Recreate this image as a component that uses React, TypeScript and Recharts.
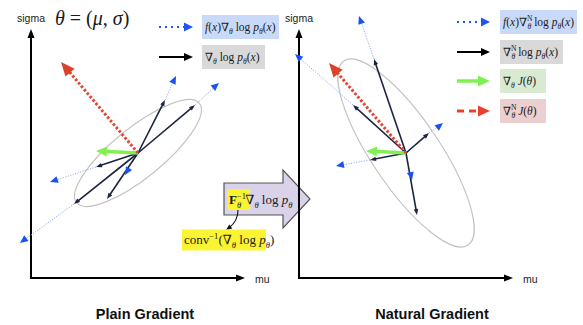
import React from 'react';
import { ComposedChart, XAxis, YAxis, ReferenceLine, ReferenceArea, ReferenceDot } from 'recharts';

const W = 583;
const H = 325;
const SANS = "'Liberation Sans', Arial, Helvetica, sans-serif";
const SERIF = "'Liberation Serif', 'DejaVu Serif', 'Times New Roman', serif";

// ---------------- data ----------------
const panelNames = ['Plain Gradient', 'Natural Gradient'];
const panelOriginX = [31, 299]; // where each panel's mu / sigma axes meet
const panelOriginY = 47;
const muAxisLength = 214;
const sigmaAxisLength = 249;
const titleX = [145, 432];
const thetaPoint = [107, 125]; // current (mu, sigma), panel units

// samples: gradient of log-density (black) and fitness-weighted version (blue)
const plainGradLogP = [[27, 53], [57, 48], [-42, -14], [-64, -51], [-31, -46]];
const plainWeighted = [[38, 77], [81, 70], [-88, -29], [-118, -90], [-13, -22]];
const naturalGradLogP = [[-32, 94], [-53, 48], [23, 20], [-36, -7], [11, -62]];
const naturalWeighted = [[-47, 137], [-111, 99], [37, 30], [-70, -13], [6, -27]];
const gradJ = [[-42, 2], [-40, 2]];
const naturalGradJ = [[-77, 91], [-77, 90]];
// distribution contour for each panel
const ellipseA = [79, 111];
const ellipseB = [25, 34];
const ellipseAngle = [39, -56];

// legends
const legendKinds = [['weighted', 'sample'], ['weighted', 'sample', 'grad', 'natgrad']];
const legendArrowX = [[159, 193], [457, 490]];
const legendBoxX = [202, 500];
const legendRowTop = [[27, 57], [22, 52, 81, 111]]; // measured from the top
const legendBoxW = [[77, 63], [77, 63, 46, 46]];
const legendBoxH = 24;
const legendFill: Record<string, string> = {
  weighted: '#c9daf8',
  sample: '#d9d9d9',
  grad: '#d9ead3',
  natgrad: '#ecd0d0',
};

// ---------------- helpers ----------------
const Y = (fromTop: number) => H - fromTop;

type Seg = { t: string; f?: string; dx?: number };
const S = (t: string, f = '', dx?: number): Seg => ({ t, f, dx });

const fx = [S('f', 'i'), S('('), S('x', 'i'), S(')')];
const logp = [S(' log '), S('p', 'i'), S('θ', '_i'), S('('), S('x', 'i'), S(')')];
const nablaPlain = [S('∇'), S('θ', '_i')];
const nablaNat = [S('∇'), S('N', '^'), S('θ', '_i', -5)];
const Jtheta = [S(' '), S('J', 'i'), S('('), S('θ', 'i'), S(')')];

const formula = (kind: string, natural: boolean): Seg[] => {
  const nab = natural ? nablaNat : nablaPlain;
  if (kind === 'weighted') return [...fx, ...nab, ...logp];
  if (kind === 'sample') return [...nab, ...logp];
  if (kind === 'grad') return [...nablaPlain, ...Jtheta];
  return [...nablaNat, ...Jtheta];
};

const fisherText = [S('F', 'b'), S('−1', '^'), S('θ', '_i', -9), S('∇', '', 4), S('θ', '_i'), S(' log '), S('p', 'i'), S('θ', '_i')];
const convText = [S('conv'), S('−1', '^'), S('(∇'), S('θ', '_i'), S(' log '), S('p', 'i'), S('θ', '_i'), S(')')];
const thetaText = [S('θ', 'i'), S(' = ('), S('μ', 'i'), S(', '), S('σ', 'i'), S(')')];

function MathText({ x, y, segs, size, fill = '#1a1a1a' }: { x: number; y: number; segs: Seg[]; size: number; fill?: string }) {
  let level = 0;
  const kids = segs.map((s, k) => {
    const f = s.f || '';
    const small = f.includes('_') || f.includes('^');
    const target = f.includes('_') ? size * 0.3 : f.includes('^') ? -size * 0.4 : 0;
    const dy = target - level;
    level = target;
    return (
      <tspan
        key={k}
        dy={dy}
        dx={s.dx}
        fontStyle={f.includes('i') ? 'italic' : 'normal'}
        fontWeight={f.includes('b') ? 'bold' : 'normal'}
        fontSize={small ? size * 0.66 : size}
      >
        {s.t}
      </tspan>
    );
  });
  return (
    <text x={x} y={y} fontSize={size} fontFamily={SERIF} fill={fill} style={{ whiteSpace: 'pre' }}>
      {kids}
    </text>
  );
}

interface ArrowStyle {
  stroke: string;
  width: number;
  dash?: string;
  headLen: number;
  headW: number;
  headFill?: string;
  line?: boolean;
  head?: boolean;
  cap?: 'butt' | 'round' | 'square';
}

const arrow = (s: ArrowStyle) => (p: any) => {
  const { x1, y1, x2, y2 } = p;
  const dx = x2 - x1;
  const dy = y2 - y1;
  const L = Math.hypot(dx, dy) || 1;
  const ux = dx / L;
  const uy = dy / L;
  const bx = x2 - ux * s.headLen;
  const by = y2 - uy * s.headLen;
  const hw = s.headW / 2;
  const ex = x2 - ux * s.headLen * 0.6;
  const ey = y2 - uy * s.headLen * 0.6;
  return (
    <g>
      {s.line !== false && (
        <line x1={x1} y1={y1} x2={ex} y2={ey} stroke={s.stroke} strokeWidth={s.width} strokeDasharray={s.dash} strokeLinecap={s.cap ?? 'butt'} />
      )}
      {s.head !== false && (
        <polygon points={`${x2},${y2} ${bx - uy * hw},${by + ux * hw} ${bx + uy * hw},${by - ux * hw}`} fill={s.headFill ?? s.stroke} />
      )}
    </g>
  );
};

const styles: Record<string, ArrowStyle> = {
  axis: { stroke: '#000', width: 2, headLen: 9, headW: 7, cap: 'square' },
  blueLine: { stroke: '#94aef7', width: 1, dash: '1.2 1.4', headLen: 7, headW: 7, head: false },
  blueHead: { stroke: '#1a52f0', width: 1, headLen: 8, headW: 7, line: false },
  black: { stroke: '#1b2441', width: 1.6, headLen: 6, headW: 4.5 },
  green: { stroke: '#83f052', width: 3.5, headLen: 11, headW: 10 },
  red: { stroke: '#e4452f', width: 3, dash: '2.5 2', headLen: 14, headW: 12, headFill: '#d9432c' },
  weighted: { stroke: '#1f55f2', width: 2, dash: '2 4', headLen: 9, headW: 9 },
  sample: { stroke: '#000', width: 2, headLen: 9, headW: 8 },
  grad: { stroke: '#7ff04f', width: 3.5, headLen: 12, headW: 11 },
  natgrad: { stroke: '#ea3f2a', width: 3, dash: '7 5', headLen: 12, headW: 11 },
};

const fatArrow = (p: any) => {
  const { x1, y1, x2 } = p;
  const bodyHalf = 16;
  const headHalf = 29;
  const headLen = 27;
  const hx = x2 - headLen;
  const pts = [
    [x1, y1 - bodyHalf], [hx, y1 - bodyHalf], [hx, y1 - headHalf], [x2, y1],
    [hx, y1 + headHalf], [hx, y1 + bodyHalf], [x1, y1 + bodyHalf],
  ].map((q) => q.join(',')).join(' ');
  return <polygon points={pts} fill="#d9d2e9" stroke="#555" strokeWidth={1.2} />;
};

const curvedArrow = (p: any) => {
  const { x1, y1, x2, y2 } = p;
  const cx = x1;
  const cy = y1 + 11;
  const dx = x2 - cx;
  const dy = y2 - cy;
  const L = Math.hypot(dx, dy) || 1;
  const ux = dx / L;
  const uy = dy / L;
  const bx = x2 - ux * 6;
  const by = y2 - uy * 6;
  return (
    <g>
      <path d={`M${x1},${y1} Q${cx},${cy} ${bx + ux * 2},${by + uy * 2}`} fill="none" stroke="#111" strokeWidth={1.1} />
      <polygon points={`${x2},${y2} ${bx - uy * 2.5},${by + ux * 2.5} ${bx + uy * 2.5},${by - ux * 2.5}`} fill="#111" />
    </g>
  );
};

const P = (i: number, mu: number, sigma: number) => ({ x: panelOriginX[i] + mu, y: panelOriginY + sigma });
const add = (a: { x: number; y: number }, v: number[]) => ({ x: a.x + v[0], y: a.y + v[1] });

const textAt = (key: string, x: number, y: number, render: (cx: number, cy: number) => React.ReactElement) => (
  <ReferenceDot key={key} x={x} y={y} r={0} ifOverflow="visible" fill="none" stroke="none" shape={(p: any) => render(p.cx, p.cy)} />
);

export default function App() {
  const areas: React.ReactElement[] = [];
  const lines: React.ReactElement[] = [];
  const texts: React.ReactElement[] = [];

  const seg = (key: string, a: { x: number; y: number }, b: { x: number; y: number }, shape: any) => (
    <ReferenceLine key={key} segment={[a, b]} ifOverflow="visible" stroke="none" shape={shape} />
  );

  // big transition arrow (drawn first so the right axis crosses it)
  lines.push(seg('fat', { x: 224, y: Y(199) }, { x: 310, y: Y(199) }, fatArrow));
  lines.push(seg('curve', { x: 238, y: Y(210) }, { x: 226, y: Y(230) }, curvedArrow));

  [0, 1].forEach((i) => {
    const c = P(i, thetaPoint[0], thetaPoint[1]);
    const grads = i === 0 ? plainGradLogP : naturalGradLogP;
    const weighted = i === 0 ? plainWeighted : naturalWeighted;

    // contour of the distribution
    areas.push(
      <ReferenceArea
        key={`ell${i}`}
        x1={c.x - ellipseA[i]}
        x2={c.x + ellipseA[i]}
        y1={c.y - ellipseB[i]}
        y2={c.y + ellipseB[i]}
        ifOverflow="visible"
        shape={(p: any) => {
          const w = Math.abs(p.width);
          const h = Math.abs(p.height);
          const ex = Math.min(p.x, p.x + p.width) + w / 2;
          const ey = Math.min(p.y, p.y + p.height) + h / 2;
          return (
            <ellipse cx={ex} cy={ey} rx={w / 2} ry={h / 2} transform={`rotate(${-ellipseAngle[i]} ${ex} ${ey})`} fill="none" stroke="#c4c4c4" strokeWidth={1.2} />
          );
        }}
      />
    );

    // axes
    lines.push(seg(`ay${i}`, P(i, 0, 0), P(i, 0, sigmaAxisLength), arrow(styles.axis)));
    lines.push(seg(`ax${i}`, P(i, 0, 0), P(i, muAxisLength, 0), arrow(styles.axis)));

    // weighted samples (dotted blue extension)
    weighted.forEach((v, k) => {
      const g = grads[k];
      const longer = Math.hypot(v[0], v[1]) > Math.hypot(g[0], g[1]);
      if (longer) lines.push(seg(`bl${i}-${k}`, add(c, g), add(c, v), arrow(styles.blueLine)));
    });
    // sample gradients
    grads.forEach((g, k) => lines.push(seg(`bk${i}-${k}`, c, add(c, g), arrow(styles.black))));
    // blue heads on top
    weighted.forEach((v, k) => lines.push(seg(`bh${i}-${k}`, c, add(c, v), arrow(styles.blueHead))));
    // expected gradient and natural gradient
    lines.push(seg(`gr${i}`, c, add(c, gradJ[i]), arrow(styles.green)));
    lines.push(seg(`rd${i}`, c, add(c, naturalGradJ[i]), arrow(styles.red)));

    // legend
    legendKinds[i].forEach((kind, r) => {
      const yc = Y(legendRowTop[i][r]);
      lines.push(seg(`lg${i}-${r}`, { x: legendArrowX[i][0], y: yc }, { x: legendArrowX[i][1], y: yc }, arrow(styles[kind])));
      areas.push(
        <ReferenceArea
          key={`lb${i}-${r}`}
          x1={legendBoxX[i]}
          x2={legendBoxX[i] + legendBoxW[i][r]}
          y1={yc - legendBoxH / 2}
          y2={yc + legendBoxH / 2}
          ifOverflow="visible"
          fill={legendFill[kind]}
          fillOpacity={1}
          stroke="none"
        />
      );
      texts.push(textAt(`lt${i}-${r}`, legendBoxX[i] + 3, yc, (cx, cy) => <MathText x={cx} y={cy + 4} size={11.5} segs={formula(kind, i === 1)} />));
    });

    // axis labels and titles
    texts.push(
      textAt(`sg${i}`, panelOriginX[i], Y(22), (cx, cy) => (
        <text x={cx} y={cy} textAnchor="middle" fontFamily={SANS} fontSize={10.5} fill="#222">sigma</text>
      ))
    );
    texts.push(
      textAt(`mu${i}`, panelOriginX[i] + muAxisLength + 10, Y(283), (cx, cy) => (
        <text x={cx} y={cy} fontFamily={SANS} fontSize={10.5} fill="#222">mu</text>
      ))
    );
    texts.push(
      textAt(`tt${i}`, titleX[i], Y(319), (cx, cy) => (
        <text x={cx} y={cy} textAnchor="middle" fontFamily={SANS} fontWeight="bold" fontSize={14.5} fill="#111">{panelNames[i]}</text>
      ))
    );
  });

  // parameter label
  texts.push(textAt('theta', 55, Y(25), (cx, cy) => <MathText x={cx} y={cy} size={20} segs={thetaText} />));

  // transformation labels with yellow highlights
  texts.push(
    textAt('fisher', 228, Y(204), (cx, cy) => (
      <g>
        <rect x={cx - 0.5} y={cy - 15} width={22.5} height={21} fill="#fbf432" />
        <MathText x={cx + 1} y={cy} size={13} segs={fisherText} />
      </g>
    ))
  );
  texts.push(
    textAt('conv', 182, Y(244), (cx, cy) => (
      <g>
        <rect x={cx} y={cy - 14.5} width={84} height={21} fill="#fbf432" />
        <MathText x={cx + 2} y={cy} size={13} segs={convText} />
      </g>
    ))
  );

  const frame = [{ x: 0, y: 0 }, { x: W, y: H }];

  return (
    <div style={{ position: 'absolute', left: 0, top: 0, width: W, height: H, background: '#fff' }}>
      <ComposedChart width={W} height={H} margin={{ top: 0, right: 0, bottom: 0, left: 0 }} data={frame}>
        <XAxis type="number" dataKey="x" domain={[0, W]} allowDataOverflow hide />
        <YAxis type="number" dataKey="y" domain={[0, H]} allowDataOverflow hide />
        {areas}
        {lines}
        {texts}
      </ComposedChart>
    </div>
  );
}
